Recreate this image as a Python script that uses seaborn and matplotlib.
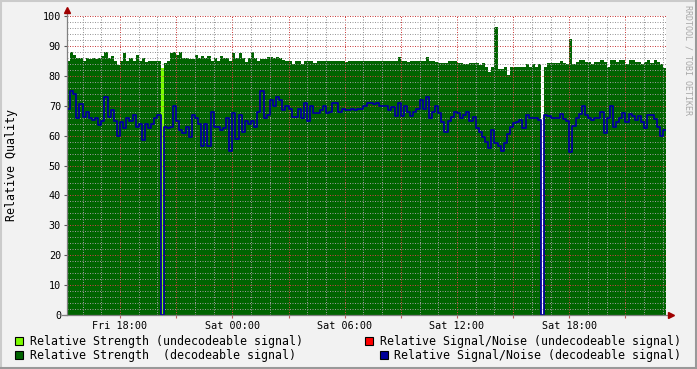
import numpy as np
import pandas as pd
import matplotlib
matplotlib.use('Agg')
import matplotlib.pyplot as plt
import seaborn as sns
from matplotlib.patches import Rectangle
from matplotlib.lines import Line2D
from matplotlib.ticker import MultipleLocator, FuncFormatter

nan = np.nan

# ---- data -------------------------------------------------------------
start_hour = 15 + 10 / 60      # Fri 15:10, in hours since Fri 00:00
step_hours = 10 / 60           # 10-minute samples

strength_dec = [
    85, 88, 87, 86, 86, 85, 86, 85.5, 86, 85.5, 86, 86.5, 88, 86, 86.5, 85, 83.6, 85, 87.5, 85,
    86, 85, 87, 85, 86, 84.5, 85, 85, 85, 85, nan, 84.4, 85, 87.5, 88, 87, 88, 86, 86, 85.5,
    85.5, 87, 86, 86.5, 86, 86.5, 84.8, 86, 85, 86.5, 86, 86, 84.8, 87.5, 86, 87.5, 86, 84.5, 86, 88,
    86, 85, 85.5, 85.5, 86.4, 86.4, 86, 86.4, 86, 85.3, 85, 85, 84, 85, 85, 84, 85, 85, 85, 84.2,
    85, 85, 85, 85, 85, 85, 85, 85, 85, 84.5, 85, 85, 85, 85, 85, 85, 85, 85, 85, 85,
    85, 85, 85, 85, 85, 85, 86.2, 85, 85, 84.5, 85, 85, 85, 85, 85, 86.4, 85, 85, 84.6, 84.2,
    84.2, 84.2, 85, 85, 85, 84.2, 84.2, 84, 84, 84.4, 84.4, 84.4, 83.6, 84.4, 83, 81.4, 83, 96.4, 82.3, 82.3,
    83, 80.3, 83, 83, 83, 83, 83, 83.8, 83, 83.8, 83, 84, nan, 83, 84.2, 84.2, 84.2, 84.2, 84.9, 84.2,
    84, 92.3, 83.8, 84.5, 85.3, 85.3, 84.5, 84.5, 84, 84.5, 84.5, 85.3, 84.5, 83, 85.3, 85.3, 84.5, 85.3, 85.3, 84,
    85.3, 85.3, 84.5, 84.5, 84, 84.5, 85.3, 84.3, 85.3, 84.5, 84, 82.5,
]

snr_dec = [
    69, 75, 74, 66, 70.5, 66.3, 68, 66, 65.2, 66, 63.5, 65, 73, 66.3, 68.5, 65, 60, 64.6, 62.5, 66,
    65, 67, 63, 64, 58.5, 64, 62.5, 64, 66, 67, 0, 63, 62.5, 63, 70, 65, 62, 61, 63, 59.5,
    67, 66, 64, 56.5, 64, 56.5, 68, 63, 63, 62, 62.5, 66, 55, 67.5, 59, 67, 61.3, 65, 64, 65,
    63, 68, 75, 66, 67, 72, 70, 73, 72, 68.5, 70, 69, 66.3, 66.3, 69, 66, 71, 65, 70, 67.5,
    67.5, 68.5, 70, 67.5, 68, 71, 71, 68, 69, 68.5, 68.5, 69, 68.5, 69, 69, 70, 71, 71, 70.5, 71,
    70, 70, 70, 68.6, 69.5, 66.5, 71, 66.5, 70, 68, 66.5, 68, 69, 72, 69, 73, 66, 68, 70, 67.5,
    64.5, 61.3, 65, 66.3, 68, 67.5, 66, 67, 68, 65, 66.3, 62.5, 61.3, 59.6, 58, 56, 62, 57.5, 56.5, 55,
    57.5, 60.5, 63, 64.3, 64.5, 65.2, 62.5, 67, 65.8, 65.8, 66, 65.2, 0, 67, 66.5, 66, 66, 66, 67.2, 65.5,
    65, 54.6, 63.2, 66, 67.2, 70, 67, 66, 65.2, 66, 66, 68, 61, 66, 70, 63, 64.5, 66, 67.7, 64.6,
    67.2, 66.5, 65.2, 66.5, 64.6, 62.4, 67, 67, 65.5, 63, 60, 62,
]

strength_undec_idx = [30]
strength_undec_val = [82.5]
snr_undec_idx = []
snr_undec_val = []

tick_hours = [18, 24, 30, 36, 42]
tick_labels = ['Fri 18:00', 'Sat 00:00', 'Sat 06:00', 'Sat 12:00', 'Sat 18:00']

legend_labels = [
    'Relative Strength (undecodeable signal)',
    'Relative Signal/Noise (undecodeable signal)',
    'Relative Strength  (decodeable signal)',
    'Relative Signal/Noise (decodeable signal)',
]

GREEN = '#006400'
LIGHT = '#7CFC00'
RED = '#FF0000'
BLUE = '#000099'

# ---- build frames -----------------------------------------------------
n = len(strength_dec)
t = start_hour + np.arange(n + 1) * step_hours
s_dec = np.nan_to_num(np.array(strength_dec + [strength_dec[-1]], dtype=float))
s_und = np.zeros(n + 1)
for i, v in zip(strength_undec_idx, strength_undec_val):
    s_und[i] = v
df = pd.DataFrame({'t': t, 'snr': snr_dec + [snr_dec[-1]]})

# ---- figure -----------------------------------------------------------
plt.rcParams['font.family'] = ['DejaVu Sans Mono']
W, H = 697, 369
fig = plt.figure(figsize=(W / 100, H / 100), dpi=100, facecolor='#F2F2F2')
ax = fig.add_axes([67 / W, 54 / H, 599 / W, 299 / H])
ax.set_facecolor('white')

ax.fill_between(t, 0, s_dec, step='post', color=GREEN, lw=0, zorder=1)
ax.fill_between(t, 0, s_und, step='post', color=LIGHT, lw=0, zorder=1.1)
sns.lineplot(data=df, x='t', y='snr', drawstyle='steps-post', color=BLUE,
             lw=1.3, ax=ax, estimator=None, legend=False, zorder=3)

ax.set_xlim(t[0], t[-1])
ax.set_ylim(0, 100)
ax.set_xlabel('')
ax.set_ylabel('')

lab = dict(zip(tick_hours, tick_labels))
ax.xaxis.set_major_locator(MultipleLocator(3))
ax.xaxis.set_minor_locator(MultipleLocator(1))
ax.xaxis.set_major_formatter(FuncFormatter(lambda v, p: lab.get(int(round(v)), '')))
ax.yaxis.set_major_locator(MultipleLocator(10))
ax.yaxis.set_minor_locator(MultipleLocator(2))

ax.tick_params(axis='x', which='major', length=2.5, width=0.8, color='#C06060',
               pad=1.5, labelsize=7.3)
ax.tick_params(axis='y', which='major', length=2.5, width=0.8, color='#555555',
               pad=1.8, labelsize=7.3)
ax.tick_params(which='minor', length=0)

ax.set_axisbelow(False)
ax.grid(which='minor', color=(0.6, 0.6, 0.6, 0.35), ls=(0, (1, 1.5)), lw=0.72)
ax.grid(which='major', color=(0.8, 0.25, 0.25, 0.35), ls=(0, (1, 1.5)), lw=0.72)

for s in ax.spines.values():
    s.set_visible(False)

# axis lines with arrows
ax.add_line(Line2D([0, 0], [0, 1.02], transform=ax.transAxes, color='#808080',
                   lw=0.9, clip_on=False, zorder=4))
ax.add_line(Line2D([-0.008, 1.008], [0, 0], transform=ax.transAxes, color='#808080',
                   lw=0.9, clip_on=False, zorder=4))
ax.plot([0], [1.02], marker='^', ms=4, color='#A00000', transform=ax.transAxes,
        clip_on=False, zorder=5)
ax.plot([1.009], [0], marker='>', ms=4, color='#A00000', transform=ax.transAxes,
        clip_on=False, zorder=5)

# y label and watermark
fig.text(12 / W, (H - 165) / H, 'Relative Quality', rotation=90, ha='center',
         va='center', fontsize=8.4)
fig.text(688 / W, (H - 60) / H, 'RRDTOOL / TOBI OETIKER', rotation=270, ha='center',
         va='center', fontsize=6, color='#A8A8A8')

# legend
legend_pos = [(15, 341, 30), (365, 341, 380), (15, 355, 30), (379.5, 355, 394.5)]
legend_cols = [LIGHT, RED, GREEN, BLUE]
for (bx, cy, tx), c, txt in zip(legend_pos, legend_cols, legend_labels):
    fig.patches.append(Rectangle((bx / W, (H - cy - 4) / H), 8 / W, 8 / H,
                                 transform=fig.transFigure, facecolor=c,
                                 edgecolor='black', lw=0.8))
    fig.text(tx / W, (H - cy) / H, txt, ha='left', va='center', fontsize=8.4)

# frame shading
fig.add_artist(Line2D([0, 1], [1 - 1 / H, 1 - 1 / H], transform=fig.transFigure,
                      color='#CBCBCB', lw=1.5))
fig.add_artist(Line2D([1 / W, 1 / W], [0, 1], transform=fig.transFigure,
                      color='#CBCBCB', lw=1.5))
fig.add_artist(Line2D([0, 1], [1 / H, 1 / H], transform=fig.transFigure,
                      color='#999999', lw=1.5))
fig.add_artist(Line2D([1 - 1 / W, 1 - 1 / W], [0, 1], transform=fig.transFigure,
                      color='#999999', lw=1.5))

fig.savefig('out.png', dpi=100, facecolor=fig.get_facecolor())
